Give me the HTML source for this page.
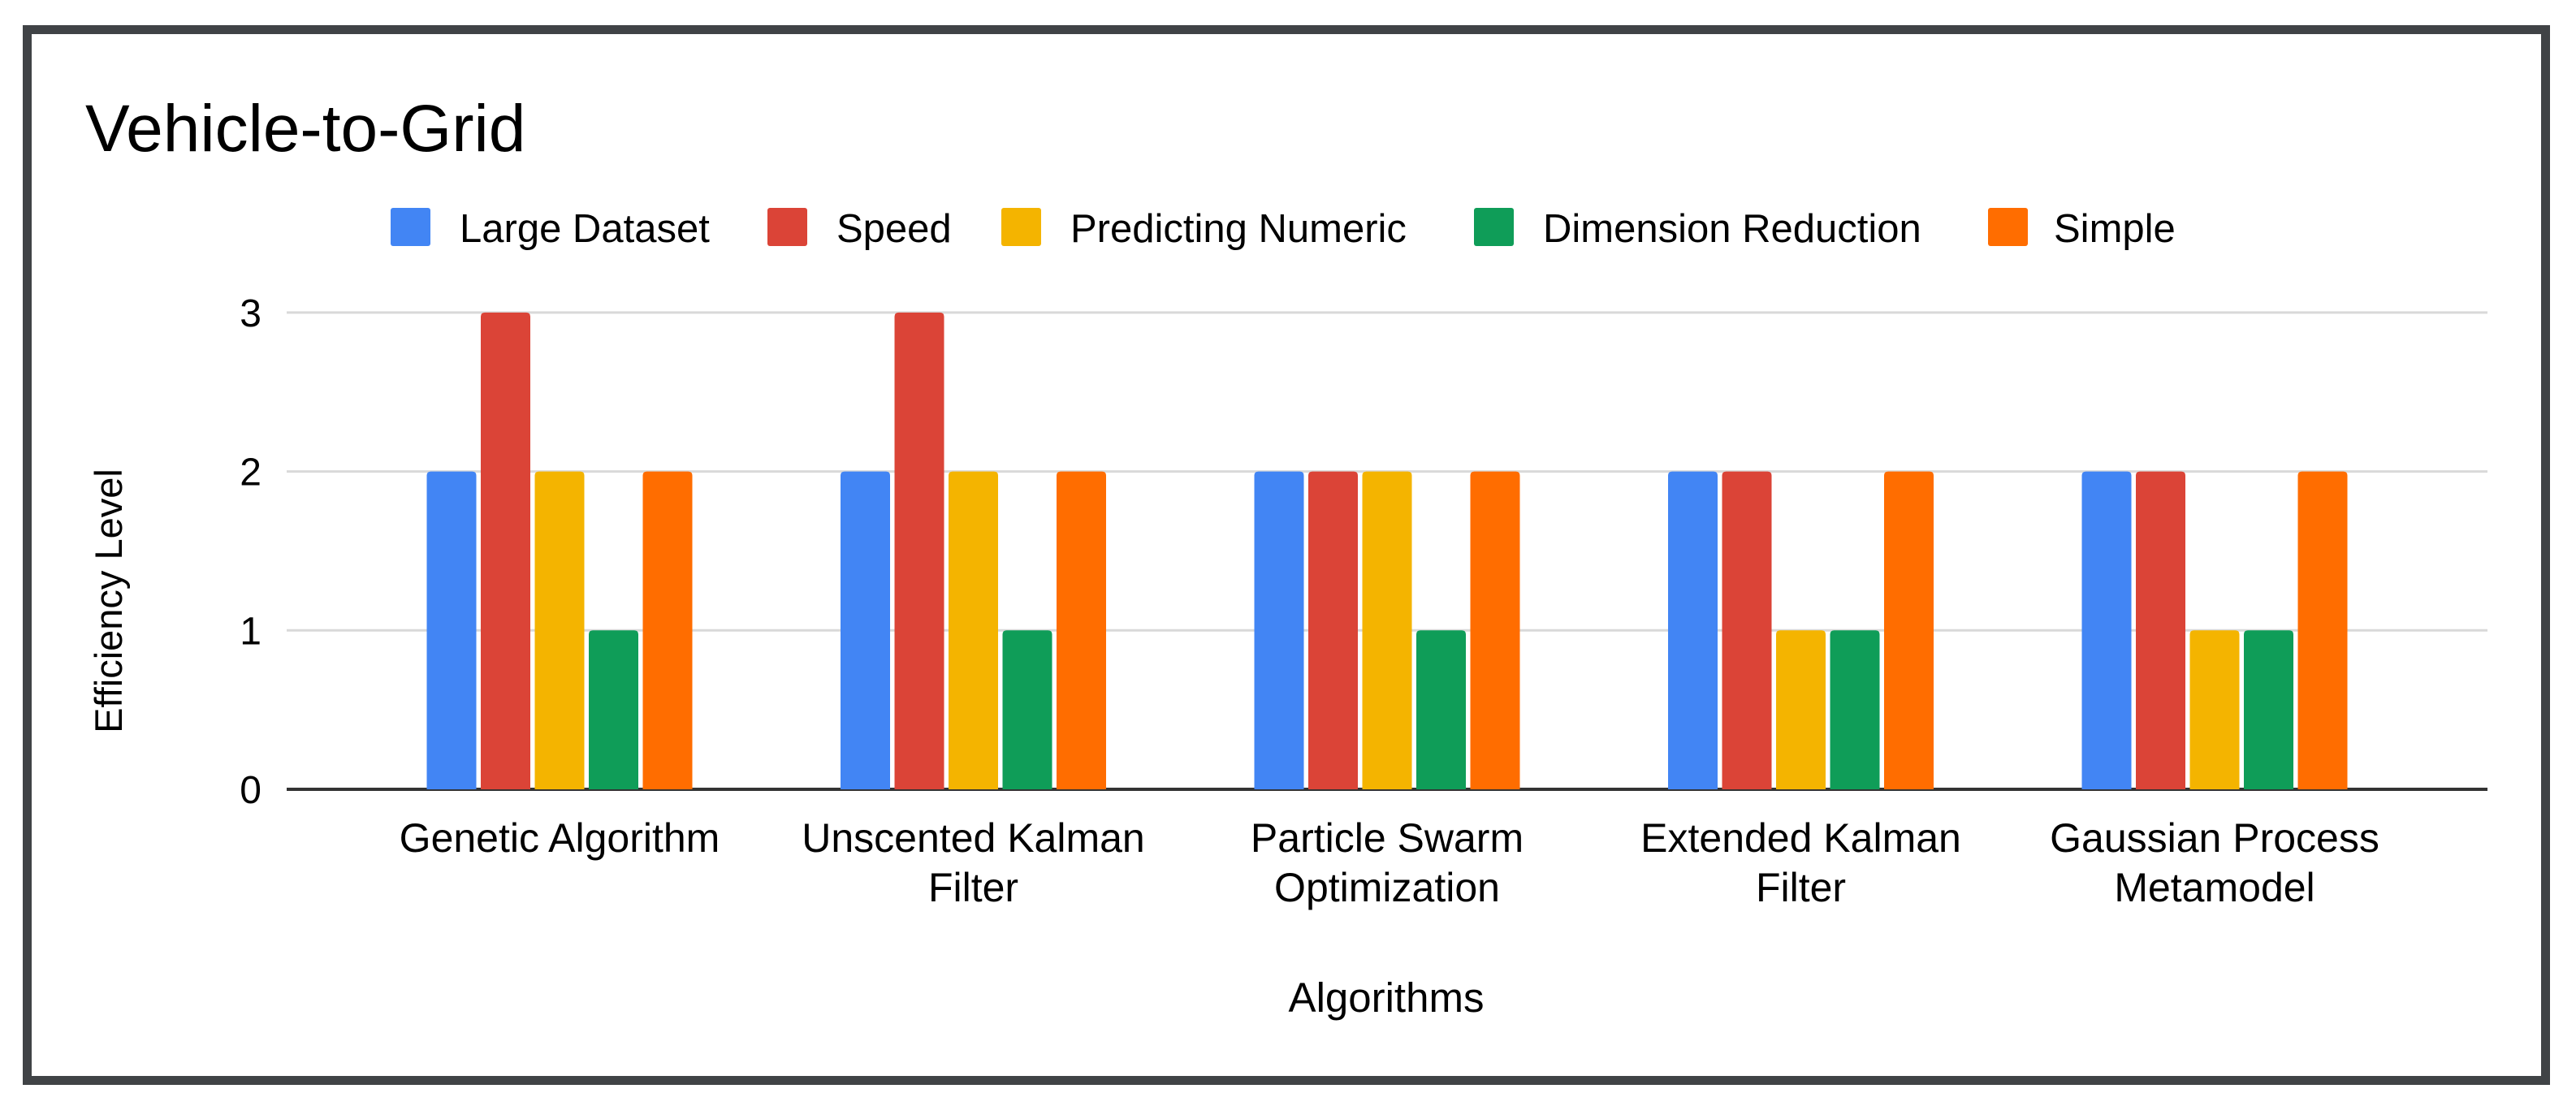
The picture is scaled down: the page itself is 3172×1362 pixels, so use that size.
<!DOCTYPE html>
<html><head><meta charset="utf-8"><style>
html,body{margin:0;padding:0;background:#fff;width:3172px;height:1362px;overflow:hidden}
svg{display:block;font-family:"Liberation Sans",Arial,sans-serif}
</style></head><body>
<svg id="chart" width="3172" height="1362" viewBox="0 0 3172 1362" xmlns="http://www.w3.org/2000/svg">
<rect x="33.5" y="36.5" width="3101" height="1294" fill="#fff" stroke="#404346" stroke-width="11"/>
<text x="105" y="186" font-size="82" fill="#000">Vehicle-to-Grid</text>
<g id="legend"></g>
<g id="grid"></g>
<g id="bars"></g>
<g id="xlabels"></g>
<text transform="translate(150,740) rotate(-90)" text-anchor="middle" font-size="47" fill="#000">Efficiency Level</text>
<text x="1707" y="1246" text-anchor="middle" font-size="51" fill="#000">Algorithms</text>
</svg>
<script>
const categories = [["Genetic Algorithm"],["Unscented Kalman","Filter"],["Particle Swarm","Optimization"],["Extended Kalman","Filter"],["Gaussian Process","Metamodel"]];
const seriesNames = ["Large Dataset","Speed","Predicting Numeric","Dimension Reduction","Simple"];
const largeDataset = [2,2,2,2,2];
const speed = [3,3,2,2,2];
const predictingNumeric = [2,2,2,1,1];
const dimensionReduction = [1,1,1,1,1];
const simple = [2,2,2,2,2];
const yTicks = [0,1,2,3];

const series = [largeDataset,speed,predictingNumeric,dimensionReduction,simple];
const colors = ["#4285F4","#DB4437","#F4B400","#0F9D58","#FF6D00"];
const NS = "http://www.w3.org/2000/svg";
const plotL = 353, plotR = 3063, y0 = 972, unit = 195.7;
const pad = 336;
const groupW = (plotR - plotL - 2*pad) / (categories.length - 1);
function xCenter(i){ return plotL + pad + i*groupW; }
function yPos(v){ return y0 - v*unit; }
function mk(tag, attrs, parent){ const e=document.createElementNS(NS,tag); for(const k in attrs) e.setAttribute(k,attrs[k]); parent.appendChild(e); return e; }

const grid = document.getElementById('grid');
yTicks.forEach(t=>{
  const l = mk('line',{x1:plotL,x2:plotR,y1:yPos(t),y2:yPos(t),stroke:t===0?'#333':'#d9d9d9','stroke-width':t===0?4:3},grid);
  
  
  const tx = mk('text',{x:322,y:yPos(t)+17,'text-anchor':'end','font-size':48,fill:'#000'},grid);
  tx.textContent = t;
  
  
});

const bars = document.getElementById('bars');
const pitch = 66.5, bw = 61;
categories.forEach((c,i)=>{
  series.forEach((s,j)=>{
    const x = xCenter(i) + (j-2)*pitch - bw/2;
    const top = yPos(s[i]);
    const r = mk('path',{d:`M${x},${y0} V${top+5} Q${x},${top} ${x+5},${top} H${x+bw-5} Q${x+bw},${top} ${x+bw},${top+5} V${y0} Z`,fill:colors[j]},bars);
    
    
  });
});

const xl = document.getElementById('xlabels');
categories.forEach((c,i)=>{
  c.forEach((line,k)=>{
    const t = mk('text',{x:xCenter(i),y:1049+k*61,'text-anchor':'middle','font-size':50,fill:'#000'},xl);
    t.textContent = line;
    
    
  });
});

const legend = document.getElementById('legend');
const legSq = [481,945,1233,1815,2448];
const legTx = [566,1030,1318,1900,2529];
seriesNames.forEach((n,j)=>{
  const sq = mk('rect',{x:legSq[j],y:256,width:49,height:47,rx:3,fill:colors[j]},legend);
  
  
  const t = mk('text',{x:legTx[j],y:298,'font-size':49,fill:'#000'},legend);
  t.textContent = n;
  
  
});
</script>
</body></html>
